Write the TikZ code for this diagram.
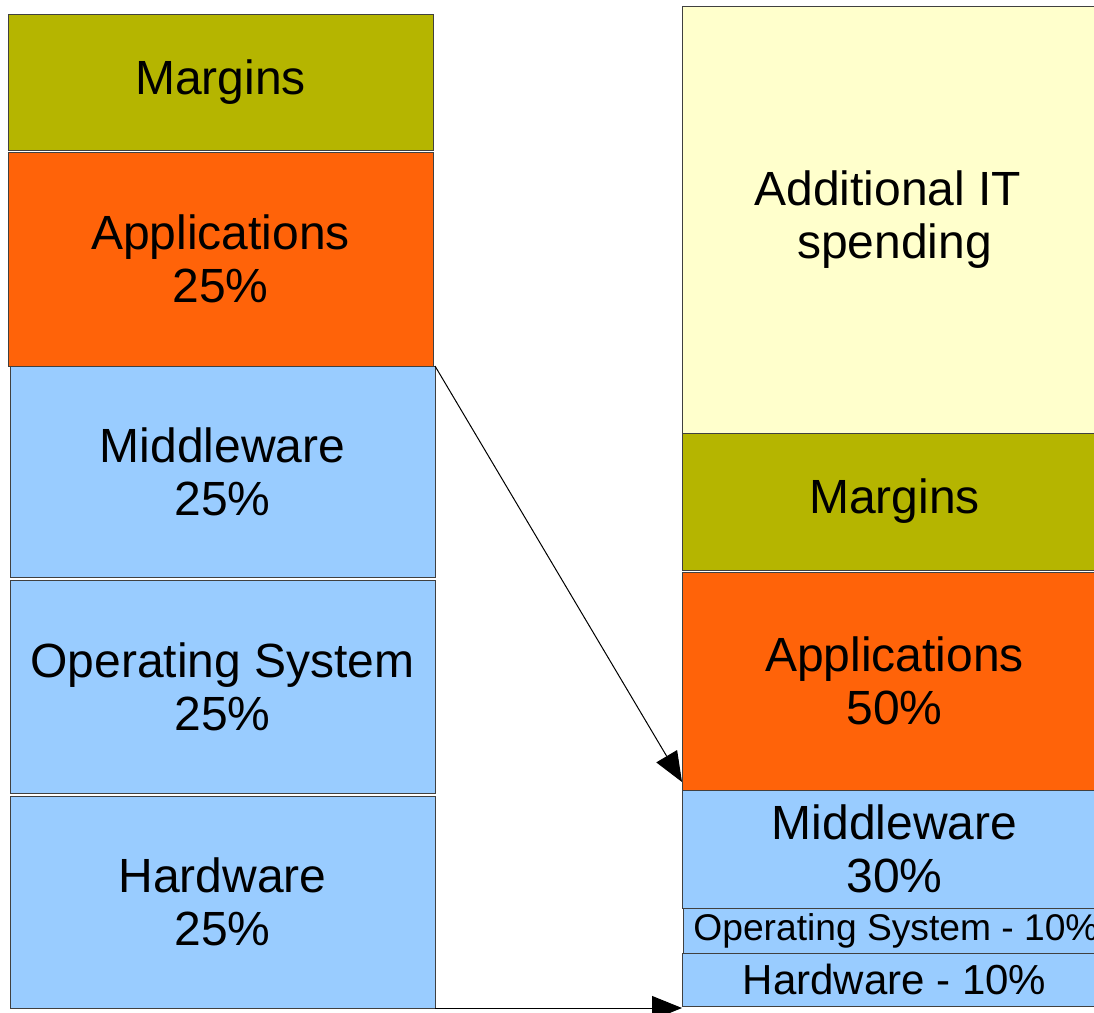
\documentclass[tikz,border=0pt]{standalone}
\usepackage{fontspec}
\setmainfont{Liberation Sans}
\usetikzlibrary{arrows.meta}

\definecolor{margcol}{HTML}{B5B500}
\definecolor{appcol}{HTML}{FF6309}
\definecolor{swcol}{HTML}{99CCFF}
\definecolor{addcol}{HTML}{FFFFCC}

\tikzset{
  layer/.style={draw=black!75, line width=0.5pt, minimum width=212.5pt,
    inner sep=0pt, outer sep=0pt, align=center,
    font=\fontsize{24}{26.5}\selectfont},
  movearrow/.style={draw=black, line width=0.5pt,
    -{Triangle[length=15pt,width=12pt]}}
}

\begin{document}
\begin{tikzpicture}[x=0.5pt,y=-0.5pt]

%picture frame, the right column runs past it
\clip (0,0) rectangle (1094,1013);

%left column
\node[layer, fill=margcol, minimum height=68pt] (lmarg) at (220.5,82) {Margins};
\node[layer, fill=appcol, minimum height=107pt] (lapp) at (220.5,259) {Applications\\25\%};
\node[layer, fill=swcol, minimum height=105.5pt] (lmid) at (222.5,471.5) {Middleware\\25\%};
\node[layer, fill=swcol, minimum height=106.5pt] (los) at (222.5,686.5) {Operating System\\25\%};
\node[layer, fill=swcol, minimum height=106pt] (lhw) at (222.5,902) {Hardware\\25\%};

%right column
\node[layer, fill=addcol, minimum height=213.5pt] (radd) at (894.5,219.5) {Additional IT\hspace*{0.28em}\\spending};
\node[layer, fill=margcol, minimum height=68.5pt] (rmarg) at (894.5,501.5) {Margins};
\node[layer, fill=appcol, minimum height=109pt] (rapp) at (894.5,681) {Applications\\50\%};
\node[layer, fill=swcol, minimum height=59pt] (rmid) at (894.5,849) {Middleware\\30\%};
\node[layer, fill=swcol, minimum height=22.5pt, font=\fontsize{18.6}{21}\selectfont] (ros) at (896,930.5) {Operating System - 10\%};
\node[layer, fill=swcol, minimum height=26.5pt, font=\fontsize{21}{23}\selectfont] (rhw) at (894.5,979.5) {Hardware - 10\%};

%arrows
\draw[movearrow] (lmid.north east) -- ([yshift=4pt]rapp.south west);
\draw[movearrow] (lhw.south east) -- (lhw.south east -| rhw.south west);

\end{tikzpicture}
\end{document}
